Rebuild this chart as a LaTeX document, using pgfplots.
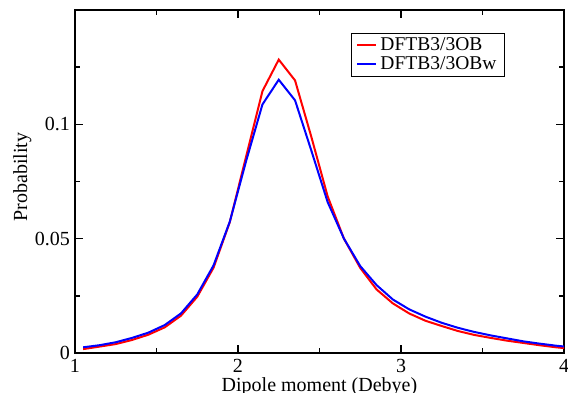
\documentclass[border=0pt]{standalone}
\usepackage{fontspec}
\setmainfont{Liberation Serif}
\usepackage{pgfplots}
\pgfplotsset{compat=1.18}
\usepackage{pgfplotstable}
\pgfplotstableread{
x red blue
1.05 0.0017 0.0025
1.15 0.0028 0.0034
1.25 0.0039 0.0047
1.35 0.0057 0.0066
1.45 0.0080 0.0089
1.55 0.0112 0.0122
1.65 0.0163 0.0173
1.75 0.0246 0.0256
1.85 0.0373 0.0383
1.95 0.0573 0.0575
2.05 0.0860 0.0840
2.15 0.1145 0.1087
2.25 0.1283 0.1195
2.35 0.1192 0.1105
2.45 0.0945 0.0885
2.55 0.0685 0.0660
2.65 0.0500 0.0500
2.75 0.0372 0.0380
2.85 0.0278 0.0297
2.95 0.0217 0.0234
3.05 0.0173 0.0191
3.15 0.0141 0.0159
3.25 0.0118 0.0132
3.35 0.0096 0.0110
3.45 0.0079 0.0092
3.55 0.0066 0.0077
3.65 0.0054 0.0064
3.75 0.0044 0.0051
3.85 0.0034 0.0041
3.95 0.0025 0.0032
4.05 0.0018 0.0025
}\datatable
\begin{document}
\begin{tikzpicture}
\begin{axis}[
  name=ax,
  scale only axis,
  width=489pt, height=343pt,
  xmin=1, xmax=4, ymin=0, ymax=0.15,
  axis line style={line width=1.8pt},
  every tick/.style={black, line width=1.6pt},
  tick align=inside,
  major tick length=8pt,
  minor tick length=5pt,
  xtick={1,2,3,4}, xticklabels={1,2,3,4},
  minor xtick={1.5,2.5,3.5},
  ytick={0,0.05,0.1}, yticklabels={0,0.05,0.1},
  minor ytick={0.025,0.075,0.125},
  xticklabel style={font=\fontsize{20}{24}\selectfont, anchor=base, inner sep=0pt, yshift=-20pt},
  yticklabel style={font=\fontsize{20}{24}\selectfont, anchor=east, inner sep=0pt, xshift=-5pt},
  xlabel={Dipole moment (Debye)},
  ylabel={Probability},
  x label style={font=\fontsize{20}{24}\selectfont, at={(axis description cs:0.5,0)}, anchor=base, yshift=-39pt},
  y label style={font=\fontsize{20}{24}\selectfont, at={(axis description cs:-0.098,0.513)}, anchor=base, rotate=0},
  clip=true,
  legend cell align=left,
  legend style={at={(rel axis cs:0.879,0.933)}, anchor=north east, draw=black, line width=0.8pt,
    font=\fontsize{19.5}{20}\selectfont, inner xsep=5pt, inner ysep=2.5pt, row sep=0pt,
    nodes={inner xsep=3pt, inner ysep=1pt, text height=13.5pt, text depth=3.5pt}},
  legend image code/.code={\draw[#1, line width=2pt] (2pt,0pt) -- (21pt,0pt);},
]
\addplot[red, line width=2pt] table[x=x, y=red] {\datatable};
\addlegendentry{DFTB3/3OB}
\addplot[blue, line width=2pt] table[x=x, y=blue] {\datatable};
\addlegendentry{DFTB3/3OBw}
\end{axis}
\pgfresetboundingbox
\path ([xshift=-75pt,yshift=-40pt]ax.south west) rectangle ++(568pt,393pt);
\end{tikzpicture}
\end{document}
